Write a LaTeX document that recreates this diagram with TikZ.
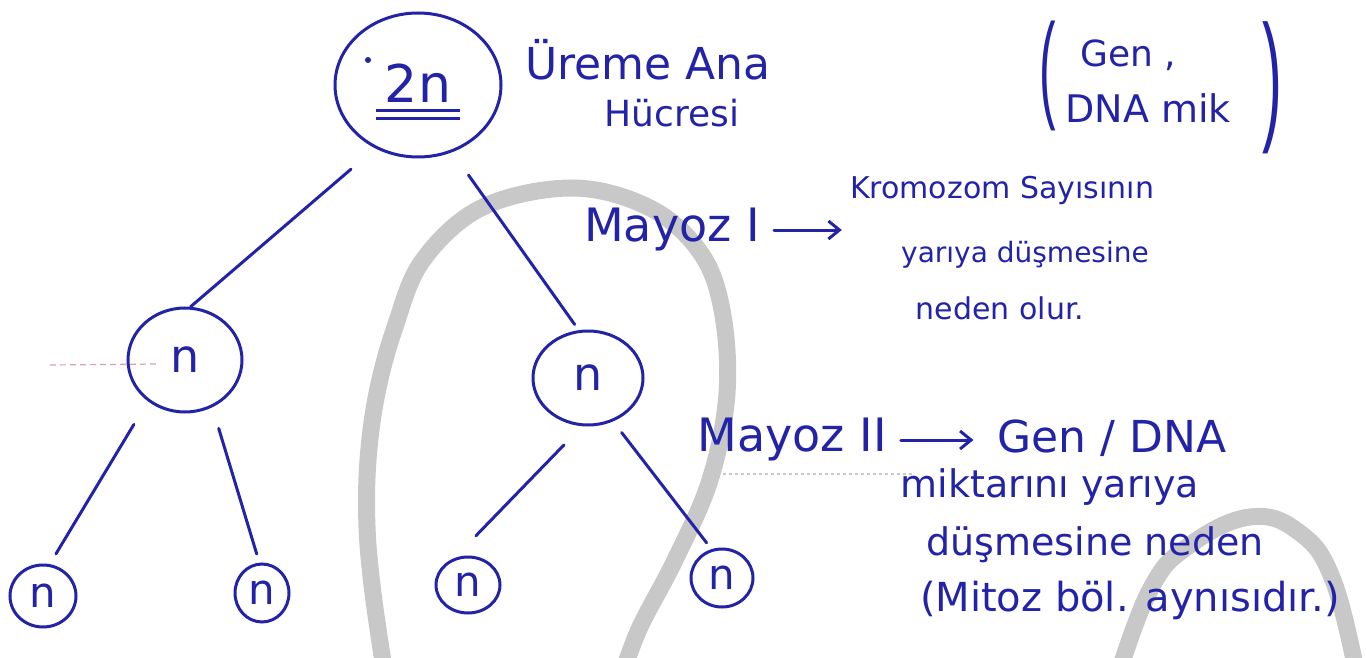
\documentclass[tikz,border=0pt]{standalone}
\usepackage{fontspec}
\setmainfont{DejaVu Sans}
\newfontfamily\parfont{Liberation Sans}
\usetikzlibrary{shapes.geometric,arrows.meta}
\definecolor{ink}{HTML}{2323A8}
\definecolor{wm}{HTML}{C8C8C8}
\definecolor{pinkline}{HTML}{D9A0AE}
\newcommand{\fsz}[1]{\fontsize{#1}{#1}\selectfont}
\begin{document}
\begin{tikzpicture}[x=1pt,y=-1pt,
  cell/.style={ellipse,draw=ink,line width=3pt,inner sep=0pt,text=ink},
  lbl/.style={text=ink,inner sep=0pt},
  link/.style={draw=ink,line width=3pt,line cap=round},
  arr/.style={link,-{Straight Barb[length=11pt,width=18pt]}},
  wmark/.style={draw=wm,line width=17pt}]
\useasboundingbox (0,0) rectangle (1366,658);
\clip (0,0) rectangle (1366,658);
\fill[white] (0,0) rectangle (1366,658);
% grey background strokes
\draw[wmark] plot[smooth,tension=0.6] coordinates {(385,675) (373,593) (367,527) (368,460) (377,393) (395,327) (423,260) (483,207) (573,188) (650,208) (700,252) (722,310) (727,393) (710,480) (675,560) (640,627) (622,675)};
\draw[wmark] plot[smooth,tension=0.7] coordinates {(1118,675) (1150,590) (1187,547) (1250,517) (1300,533) (1333,580) (1357,675)};
% faint scan marks
\draw[pinkline,line width=1.2pt,dash pattern=on 6pt off 4pt] (50,365) -- (160,364);
\draw[wm,line width=1.2pt,dash pattern=on 3pt off 3pt] (705,474) -- (912,474);
% cells
\node[cell,minimum width=166pt,minimum height=144pt,font=\fsz{52}] (top) at (418,85)
  {\vbox{\kern14pt\hbox to 84pt{\hss 2n\hss}\kern7pt\hrule height 2.8pt\kern5pt\hrule height 2.8pt}};
\fill[ink] (368,60) circle (3pt);
\node[cell,minimum width=114pt,minimum height=104pt,font=\fsz{46}] (l1) at (185,360) {n};
\node[cell,minimum width=110pt,minimum height=94pt,font=\fsz{46}] (r1) at (588,378) {n};
\node[cell,minimum width=66pt,minimum height=62pt,font=\fsz{42}] (b1) at (43,596) {n};
\node[cell,minimum width=54pt,minimum height=58pt,font=\fsz{42}] (b2) at (262,593) {n};
\node[cell,minimum width=64pt,minimum height=56pt,font=\fsz{42}] (b3) at (468,585) {n};
\node[cell,minimum width=62pt,minimum height=58pt,font=\fsz{42}] (b4) at (722,578) {n};
% tree links
\draw[link,shorten <=32pt] (top.236) -- (l1.84);
\draw[link,shorten <=28pt,shorten >=7pt] (top.297) -- (r1.101);
\draw[link,shorten <=27pt,shorten >=12pt] (l1.228) -- (b1.78);
\draw[link,shorten <=22pt,shorten >=9pt] (l1.300) -- (b2.95);
\draw[link,shorten <=26pt,shorten >=31pt] (r1.263) -- (b3.117);
\draw[link,shorten <=14pt,shorten >=8pt] (r1.300) -- (b4.110);
% labels
\node[lbl,font=\fsz{44}] (ur1) at (648,60) {Üreme Ana};
\node[lbl,font=\fsz{36}] (ur2) at (672,113) {Hücresi};
\node[lbl,font=\parfont\fsz{118}] (lp) at (1048,76) {\scalebox{0.42}[1]{(}};
\node[lbl,font=\fsz{36}] (gen) at (1128,55) {Gen ,};
\node[lbl,font=\fsz{38}] (dna) at (1148,108) {DNA mik};
\node[lbl,font=\parfont\fsz{142}] (rp) at (1272,88) {\scalebox{0.42}[1]{)}};
\node[lbl,font=\fsz{46}] (m1) at (672,230) {Mayoz I};
\node[lbl,font=\fsz{30}] (k1) at (1002,190) {Kromozom Sayısının};
\node[lbl,font=\fsz{28}] (k2) at (1025,255) {yarıya düşmesine};
\node[lbl,font=\fsz{30}] (k3) at (1000,308) {neden olur.};
\node[lbl,font=\fsz{46}] (m2) at (792,440) {Mayoz II};
\node[lbl,font=\fsz{44}] (g1) at (1112,438) {Gen / DNA};
\node[lbl,font=\fsz{38}] (g2) at (1050,487) {miktarını yarıya};
\node[lbl,font=\fsz{38}] (g3) at (1095,545) {düşmesine neden};
\node[lbl,font=\fsz{40}] (g4) at (1130,600) {(Mitoz böl. aynısıdır.)};
% arrows
\draw[arr,shorten <=14pt,shorten >=8pt] (m1.east) -- (m1.east -| k1.west);
\draw[arr,shorten <=14pt,shorten >=24pt] (m2.east) -- (m2.east -| g1.west);
\end{tikzpicture}
\end{document}
